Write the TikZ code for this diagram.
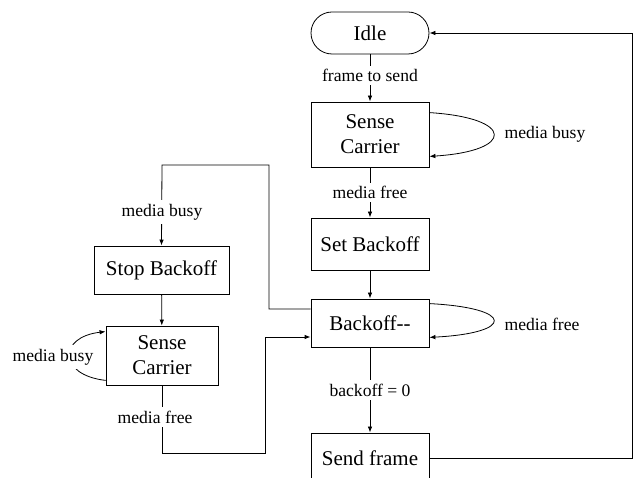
\documentclass[tikz,border=0pt]{standalone}
\usepackage{fontspec}
\setmainfont{Liberation Serif}
\usetikzlibrary{arrows.meta,calc}
\begin{document}
\begin{tikzpicture}[x=1pt,y=-1pt,
  box/.style={draw,line width=0.8pt,minimum width=118pt,inner sep=0pt,align=center,
    font=\fontsize{21}{25}\selectfont},
  lbl/.style={fill=white,inner sep=3.5pt,font=\fontsize{17.6}{20}\selectfont},
  conn/.style={line width=0.8pt},
  arr/.style={conn,-{Latex[length=6pt,width=4.5pt]}}]
\useasboundingbox (0,0) rectangle (633,478);
\clip (0,0) rectangle (633,478);
% nodes
\node[box,minimum height=42pt,rounded corners=21pt] (idle) at (370,33) {Idle};
\node[box,minimum height=65pt] (sc1) at (370,134.5) {Sense\\Carrier};
\node[box,minimum height=52pt] (setb) at (370,244) {Set Backoff};
\node[box,minimum height=48pt] (bo) at (370,323) {Backoff{-}{-}};
\node[box,minimum height=50pt] (send) at (370,458) {Send frame};
\node[box,minimum width=135pt,minimum height=48pt] (stop) at (161.5,270) {Stop Backoff};
\node[box,minimum width=112pt,minimum height=59pt] (sc2) at (162,355.5) {Sense\\Carrier};
% connectors
\draw[arr] (idle) -- node[lbl,pos=0.45] (l1) {frame to send} (sc1);
\draw[arr] ($(sc1.north east)+(0,11)$) .. controls (515,118) and (515,151) .. ($(sc1.south east)+(0,-11)$);
\node[lbl] (l2) at (545,134) {media busy};
\draw[arr] (sc1) -- node[lbl] (l3) {media free} (setb);
\draw[arr] (setb) -- (bo);
\draw[arr] ($(bo.north east)+(0,5)$) .. controls (515,308) and (515,333) .. ($(bo.south east)+(0,-10)$);
\node[lbl] (l4) at (542,324) {media free};
\draw[arr] (bo) -- node[lbl] (l5) {backoff = 0} (send);
\coordinate (r1) at (632,458);
\coordinate (r2) at (632,33);
\draw[arr] (send.east) -- (r1) -- (r2) -- (idle.east);
\coordinate (b1) at (269,309);
\coordinate (b2) at (269,165);
\coordinate (b3) at (162,165);
\draw[arr] ($(bo.west)+(0,-14)$) -- (b1) -- (b2) -- (b3) -- (stop.north);
\node[lbl] (l6) at (162,212) {media busy};
\draw[arr] (stop) -- (sc2);
\draw[arr] ($(sc2.south west)+(0,-5)$) .. controls (58,375) and (58,337) .. ($(sc2.north west)+(0,6)$);
\node[lbl] (l7) at (53,357) {media busy};
\coordinate (c1) at (162,453);
\coordinate (c2) at (265,453);
\coordinate (c3) at (265,337);
\draw[arr] (sc2.south) -- (c1) -- (c2) -- (c3) -- ($(bo.west)+(0,14)$);
\node[lbl] (l8) at (155,417) {media free};
\end{tikzpicture}
\end{document}
